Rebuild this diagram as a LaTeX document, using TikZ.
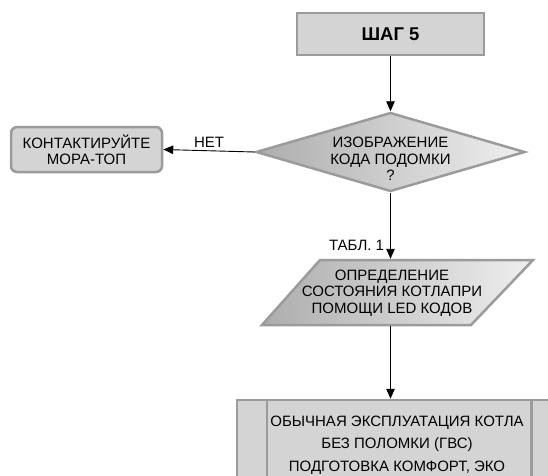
\documentclass[tikz,border=0pt]{standalone}
\usepackage{fontspec}
\setmainfont{Liberation Sans}
\usetikzlibrary{arrows.meta,shapes.geometric}
\definecolor{boxfill}{HTML}{D4D4D4}
\definecolor{boxline}{HTML}{9B9B9B}
\definecolor{shadedark}{HTML}{ADADAD}
\definecolor{shadelight}{HTML}{EFEFEF}
\begin{document}
\begin{tikzpicture}[x=1pt,y=-1pt,
  txt/.style={font=\fontsize{15}{16.5}\selectfont, align=center, inner sep=0pt},
  conn/.style={draw=black, line width=0.9pt, -{Triangle[length=10pt,width=8.5pt]}},
  frame/.style={draw=boxline, line width=2.5pt}]
\useasboundingbox (0,0) rectangle (548,475);
\clip (0,0) rectangle (548,475);
% step box
\node[frame, fill=boxfill, minimum width=187pt, minimum height=42pt, inner sep=0pt,
      font=\fontsize{18.5}{20}\selectfont\bfseries] (step) at (390.5,34) {ШАГ 5};
% decision
\node[diamond, frame, left color=shadedark, right color=shadelight,
      minimum width=269pt, minimum height=79pt, inner sep=0pt] (q) at (390.5,152) {};
\node[txt] (qt) at (390.5,159) {ИЗОБРАЖЕНИЕ\\КОДА ПОДОМКИ\\?};
% contact box
\node[frame, fill=boxfill, rounded corners=6pt, minimum width=151pt, minimum height=45pt,
      txt, font=\fontsize{15}{16}\selectfont] (contact) at (86.5,149.5) {КОНТАКТИРУЙТЕ\\МОРА-ТОП};
% parallelogram
\path[frame, line join=miter, left color=shadedark, right color=shadelight]
  (262,325) -- (320,260) -- (533,260) -- (471,325) -- cycle;
\coordinate (ptop) at (390.5,258.8);
\coordinate (pbot) at (390.5,326.2);
\node[txt] (pt) at (392,293) {ОПРЕДЕЛЕНИЕ\\СОСТОЯНИЯ КОТЛАПРИ\\ПОМОЩИ LED КОДОВ};
% bottom box
\node[frame, fill=boxfill, minimum width=324pt, minimum height=90pt, inner sep=0pt] (ops) at (399,445) {};
\draw[frame] ([xshift=31pt]ops.north west) -- ([xshift=31pt]ops.south west);
\draw[frame] ([xshift=-31pt]ops.north east) -- ([xshift=-31pt]ops.south east);
\node[txt, font=\fontsize{15}{22.5}\selectfont] (opst) at (397,445)
  {ОБЫЧНАЯ ЭКСПЛУАТАЦИЯ КОТЛА\\БЕЗ ПОЛОМКИ (ГВС)\\ПОДГОТОВКА КОМФОРТ, ЭКО};
% connectors
\draw[conn] (step.south) -- (q.north);
\draw[conn] (q.west) -- node[above=3pt, txt]{НЕТ} (contact.east);
\draw[conn] (q.south) -- node[pos=0.79, left=6pt, txt]{ТАБЛ. 1} (ptop);
\draw[conn] (pbot) -- (pbot |- ops.north);
\end{tikzpicture}
\end{document}
